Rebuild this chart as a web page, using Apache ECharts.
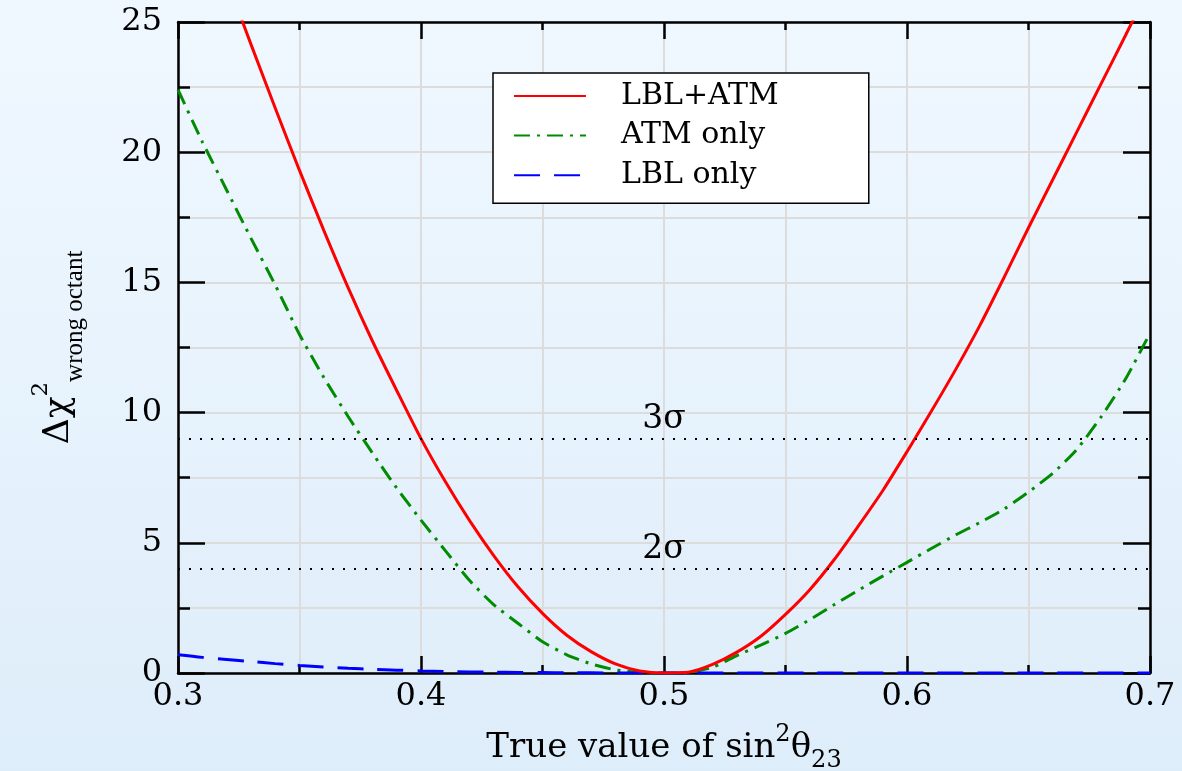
<!DOCTYPE html>
<html>
<head>
<meta charset="utf-8">
<script src="https://cdn.jsdelivr.net/npm/echarts@6/dist/echarts.min.js"></script>
<style>
html,body{margin:0;padding:0;overflow:hidden;background:#e6f2fc;}
#chart{width:1182px;height:771px;}
</style>
</head>
<body>
<div id="chart"></div>
<script>
// sin^2(theta23) sample points
const xs = [0.30,0.31,0.32,0.33,0.34,0.35,0.36,0.37,0.38,0.39,
            0.40,0.41,0.42,0.43,0.44,0.45,0.46,0.47,0.48,0.49,
            0.50,0.51,0.52,0.53,0.54,0.55,0.56,0.57,0.58,0.59,
            0.60,0.61,0.62,0.63,0.64,0.65,0.66,0.67,0.68,0.69,0.70];
// LBL+ATM (red solid)
const lblAtm = [31.65,29.15,26.65,24.15,21.7,19.3,17.0,14.8,12.75,10.85,
                9.0,7.35,5.85,4.5,3.3,2.29,1.45,0.82,0.35,0.08,
                0.0,0.03,0.33,0.8,1.42,2.25,3.2,4.35,5.65,7.0,
                8.5,10.05,11.65,13.35,15.2,17.1,18.95,20.8,22.65,24.5,26.4];
// ATM only (green dash-dot)
const atmOnly = [22.4,20.4,18.55,16.7,14.9,13.0,11.35,9.85,8.45,7.1,
                 5.87,4.7,3.55,2.62,1.9,1.2,0.7,0.35,0.12,0.02,
                 0.0,0.02,0.22,0.67,1.08,1.52,2.05,2.62,3.18,3.72,
                 4.25,4.78,5.3,5.78,6.3,6.95,7.67,8.6,9.85,11.3,13.05];
// LBL only (blue dashed)
const lblOnly = [0.70,0.60,0.52,0.44,0.36,0.29,0.23,0.18,0.14,0.11,
                 0.08,0.06,0.04,0.03,0.02,0.015,0.01,0.005,0.0,0.0,
                 0.0,0.0,0.0,0.0,0.0,0.0,0.0,0.0,0.0,0.0,
                 0.0,0.0,0.0,0.0,0.0,0.0,0.0,0.0,0.0,0.0,0.0];
const seriesNames = ['LBL+ATM','ATM only','LBL only'];
const sigmaLevels = [9, 4];
const sigmaLabels = ['3σ','2σ'];
const xTickLabels = ['0.3','0.4','0.5','0.6','0.7'];
const yTickLabels = ['0','5','10','15','20','25'];

const SERIF = '"DejaVu Serif", "Liberation Serif", serif';
const TIMES = '"Liberation Serif", "DejaVu Serif", serif';

const pairs = arr => xs.map((x, i) => [x, arr[i]]);

const chart = echarts.init(document.getElementById('chart'), null, {renderer: 'canvas', width: 1182, height: 771});

const axisLine = {show: true, onZero: false, lineStyle: {color: '#000', width: 2.5}};
const gridLine = {show: true, lineStyle: {color: '#dcdcdc', width: 2}};

const xBase = {
  type: 'value', min: 0.3, max: 0.7, interval: 0.1,
  axisLine: axisLine,
  axisTick: {show: true, inside: true, length: 17, lineStyle: {color: '#000', width: 2.5}},
  minorTick: {show: true, splitNumber: 2, length: 8, lineStyle: {color: '#000', width: 2.5}}
};
const yBase = {
  type: 'value', min: 0, max: 25, interval: 5,
  axisLine: axisLine,
  axisTick: {show: true, inside: true, length: 27, lineStyle: {color: '#000', width: 2.5}},
  minorTick: {show: true, splitNumber: 2, length: 12, lineStyle: {color: '#000', width: 2.5}}
};

const option = {
  animation: false,
  backgroundColor: new echarts.graphic.LinearGradient(0, 0, 0, 1, [
    {offset: 0, color: '#f0f8ff'},
    {offset: 1, color: '#deedfa'}
  ]),
  grid: {left: 178, right: 32, top: 22, bottom: 98, containLabel: false, outerBoundsMode: 'none'},
  legend: {
    data: seriesNames,
    orient: 'vertical',
    left: 493, top: 73,
    backgroundColor: '#ffffff',
    borderColor: '#000', borderWidth: 1.5,
    padding: [5, 90, 10, 20],
    itemWidth: 72, itemHeight: 14, itemGap: 3.6,
    itemStyle: {opacity: 0},
    textStyle: {fontFamily: SERIF, fontSize: 30, color: '#000', lineHeight: 36, padding: [0, 0, 0, 30]}
  },
  xAxis: [
    Object.assign({}, xBase, {
      position: 'bottom',
      splitLine: gridLine,
      minorSplitLine: gridLine,
      axisLabel: {show: true, margin: 8, fontFamily: SERIF, fontSize: 32, color: '#000',
        formatter: v => xTickLabels[Math.round((v - 0.3) * 10)] || v.toFixed(1)},
      name: '{a|True value of sin}{sup|2}{a|θ}{sub|23}',
      nameLocation: 'middle', nameGap: 50,
      nameTextStyle: {
        rich: {
          a: {fontFamily: SERIF, fontSize: 34, color: '#000', lineHeight: 50, verticalAlign: 'middle'},
          sup: {fontFamily: SERIF, fontSize: 24, color: '#000', lineHeight: 24, verticalAlign: 'top'},
          sub: {fontFamily: SERIF, fontSize: 24, color: '#000', lineHeight: 18, verticalAlign: 'bottom'}
        }
      }
    }),
    Object.assign({}, xBase, {
      position: 'top',
      splitLine: {show: false},
      axisLabel: {show: false}
    })
  ],
  yAxis: [
    Object.assign({}, yBase, {
      position: 'left',
      splitLine: gridLine,
      minorSplitLine: gridLine,
      axisLabel: {show: true, margin: 16, fontFamily: SERIF, fontSize: 32, color: '#000',
        formatter: v => yTickLabels[Math.round(v / 5)]},
      name: '{d|Δχ}{sup|2}{sub|wrong octant}',
      nameLocation: 'middle', nameRotate: 90, nameGap: 90,
      nameTextStyle: {
        rich: {
          d: {fontFamily: SERIF, fontSize: 36, color: '#000', lineHeight: 58, verticalAlign: 'middle'},
          sup: {fontFamily: SERIF, fontSize: 23, color: '#000', lineHeight: 24, verticalAlign: 'top'},
          sub: {fontFamily: TIMES, fontSize: 25, color: '#000', lineHeight: 22, verticalAlign: 'bottom'}
        }
      }
    }),
    Object.assign({}, yBase, {
      position: 'right',
      splitLine: {show: false},
      axisLabel: {show: false}
    })
  ],
  series: [
    {
      name: seriesNames[0], type: 'line', data: pairs(lblAtm), smooth: 0.25,
      showSymbol: false, symbol: 'none', z: 4,
      lineStyle: {color: '#ff0000', width: 3, type: 'solid'},
      itemStyle: {color: '#ff0000'},
      markLine: {
        silent: true, symbol: ['none', 'none'],
        lineStyle: {color: '#000', width: 2, type: [2, 9]},
        label: {show: true, position: 'middle', formatter: '{b}', distance: 3,
                fontFamily: SERIF, fontSize: 33, color: '#000'},
        data: sigmaLevels.map((v, i) => ({yAxis: v, name: sigmaLabels[i]}))
      }
    },
    {
      name: seriesNames[1], type: 'line', data: pairs(atmOnly), smooth: 0.2,
      showSymbol: false, symbol: 'none', z: 3,
      lineStyle: {color: '#008c00', width: 3, type: [16, 7, 3, 7]},
      itemStyle: {color: '#008c00'}
    },
    {
      name: seriesNames[2], type: 'line', data: pairs(lblOnly), smooth: 0.3,
      showSymbol: false, symbol: 'none', z: 3,
      lineStyle: {color: '#0000ff', width: 3, type: [26, 14]},
      itemStyle: {color: '#0000ff'}
    }
  ]
};
chart.setOption(option);
</script>
</body>
</html>
